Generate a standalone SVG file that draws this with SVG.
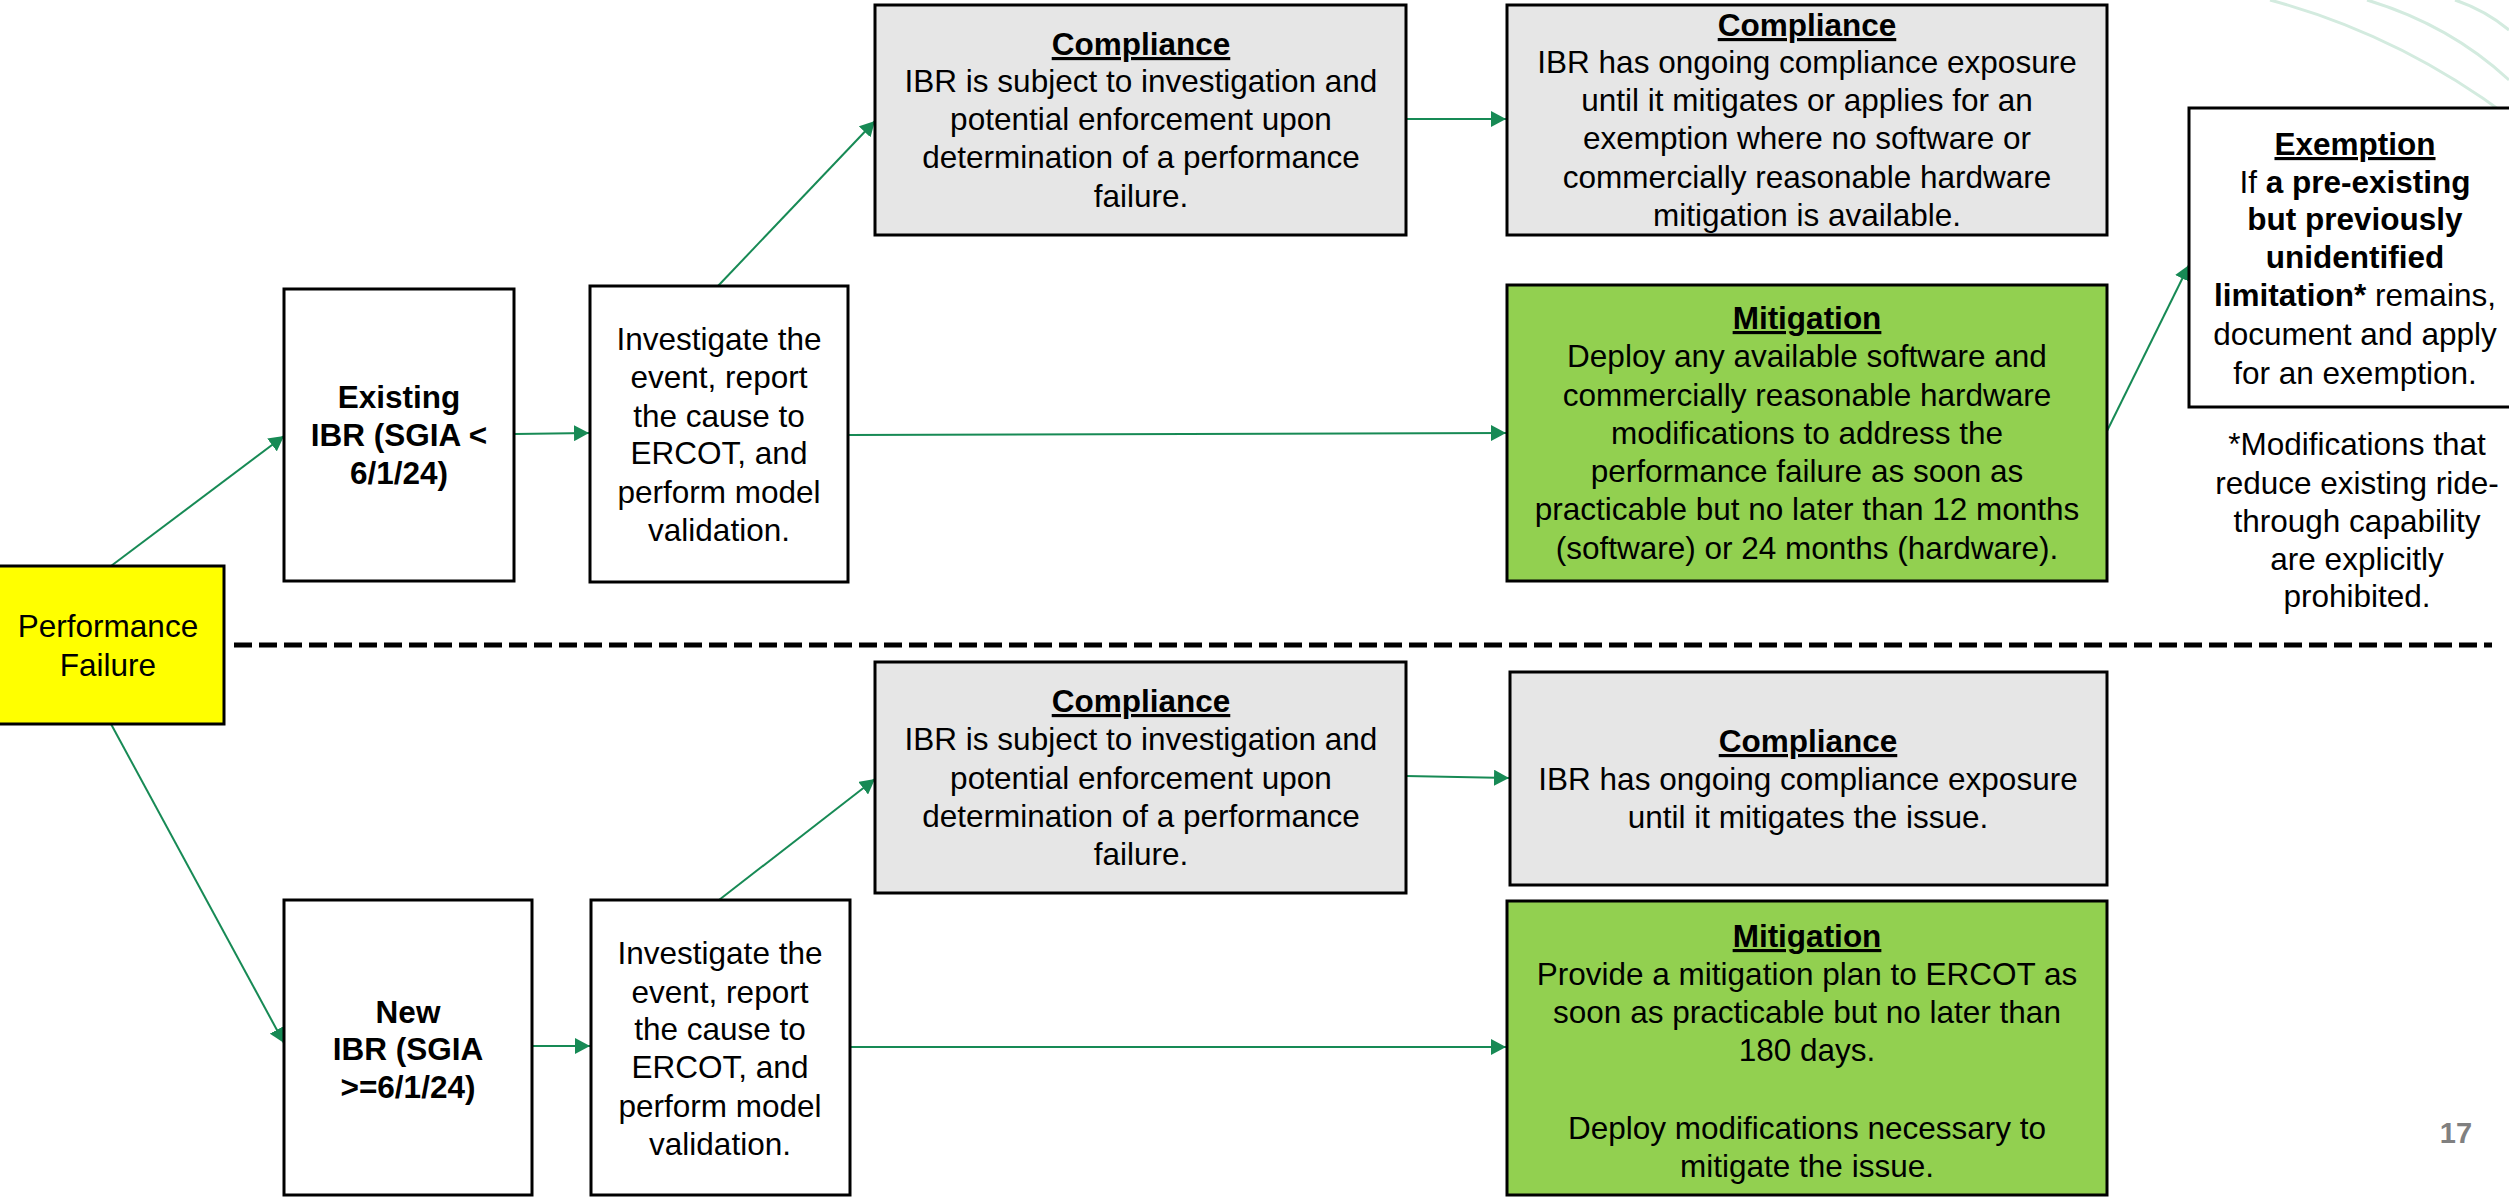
<svg xmlns="http://www.w3.org/2000/svg" width="2509" height="1197" viewBox="0 0 2509 1197">
<style>
.box{stroke:#000;stroke-width:3}
.w{fill:#fff}
.g{fill:#e6e6e6}
.m{fill:#92d050}
.y{fill:#ffff00}
text{font-family:"Liberation Sans",Arial,sans-serif;font-size:31.5px;fill:#000;text-anchor:middle}
.b{font-weight:bold}
.u{font-weight:bold;text-decoration:underline}
.conn{stroke:#178a55;stroke-width:2;fill:none;marker-end:url(#ah)}
.arc{stroke:#d3ebdf;stroke-width:3;fill:none}
</style>
<defs>
<marker id="ah" markerUnits="userSpaceOnUse" markerWidth="16" markerHeight="16" refX="15" refY="8" orient="auto">
<path d="M0,0 L15,8 L0,16 Z" fill="#178a55"/>
</marker>
</defs>
<rect width="2509" height="1197" fill="#fff"/>
<g id="decor">
<path class="arc" d="M2270,0 Q2400,35 2509,117"/>
<path class="arc" d="M2367,0 Q2450,25 2509,80"/>
<path class="arc" d="M2455,0 Q2485,10 2509,30"/>
</g>
<g id="divider">
<line x1="234" y1="645" x2="2492" y2="645" stroke="#000" stroke-width="5" stroke-dasharray="18 7"/>
</g>
<g id="connectors">
<line class="conn" x1="111" y1="566" x2="284" y2="436"/>
<line class="conn" x1="111" y1="724" x2="284" y2="1043"/>
<line class="conn" x1="515" y1="434" x2="589" y2="433"/>
<line class="conn" x1="718" y1="286" x2="875" y2="121"/>
<line class="conn" x1="848" y1="435" x2="1506" y2="433"/>
<line class="conn" x1="1406" y1="119" x2="1506" y2="119"/>
<line class="conn" x1="2107" y1="431" x2="2189" y2="265"/>
<line class="conn" x1="533" y1="1046" x2="590" y2="1046"/>
<line class="conn" x1="719" y1="900" x2="875" y2="779"/>
<line class="conn" x1="1406" y1="776" x2="1509" y2="778"/>
<line class="conn" x1="850" y1="1047" x2="1506" y2="1047"/>
</g>
<g id="performance-failure">
<rect class="box y" x="-3" y="566" width="227" height="158"/>
<text x="108" y="637">Performance</text>
<text x="108" y="676">Failure</text>
</g>
<g id="existing-ibr">
<rect class="box w" x="284" y="289" width="230" height="292"/>
<text class="b" x="399" y="408">Existing</text>
<text class="b" x="399" y="446">IBR (SGIA &lt;</text>
<text class="b" x="399" y="484">6/1/24)</text>
</g>
<g id="investigate-1">
<rect class="box w" x="590" y="286" width="258" height="296"/>
<text x="719" y="350">Investigate  the</text>
<text x="719" y="388">event,  report</text>
<text x="719" y="427">the  cause to</text>
<text x="719" y="464">ERCOT, and</text>
<text x="719" y="503">perform model</text>
<text x="719" y="541">validation.</text>
</g>
<g id="compliance-1">
<rect class="box g" x="875" y="5" width="531" height="230"/>
<text class="u" x="1141" y="55">Compliance</text>
<text x="1141" y="92">IBR is subject to investigation and</text>
<text x="1141" y="130">potential enforcement  upon</text>
<text x="1141" y="168">determination of a performance</text>
<text x="1141" y="207">failure.</text>
</g>
<g id="compliance-2">
<rect class="box g" x="1507" y="5" width="600" height="230"/>
<text class="u" x="1807" y="36">Compliance</text>
<text x="1807" y="73">IBR has ongoing compliance exposure</text>
<text x="1807" y="111">until  it mitigates or applies for an</text>
<text x="1807" y="149">exemption where no software or</text>
<text x="1807" y="188">commercially reasonable hardware</text>
<text x="1807" y="226">mitigation is available.</text>
</g>
<g id="mitigation-1">
<rect class="box m" x="1507" y="285" width="600" height="296"/>
<text class="u" x="1807" y="329">Mitigation</text>
<text x="1807" y="367">Deploy any available software and</text>
<text x="1807" y="406">commercially reasonable hardware</text>
<text x="1807" y="444">modifications to address the</text>
<text x="1807" y="482">performance failure as soon as</text>
<text x="1807" y="520">practicable but no later than 12 months</text>
<text x="1807" y="559">(software) or 24 months  (hardware).</text>
</g>
<g id="exemption">
<rect class="box w" x="2189" y="108" width="330" height="299"/>
<text class="u" x="2355" y="155">Exemption</text>
<text x="2355" y="193">If <tspan class="b">a pre-existing</tspan></text>
<text class="b" x="2355" y="230">but previously</text>
<text class="b" x="2355" y="268">unidentified</text>
<text x="2355" y="306"><tspan class="b">limitation*</tspan>  remains,</text>
<text x="2355" y="345">document and apply</text>
<text x="2355" y="384">for an exemption.</text>
</g>
<g id="footnote">
<text x="2357" y="455">*Modifications that</text>
<text x="2357" y="494">reduce existing ride-</text>
<text x="2357" y="532">through capability</text>
<text x="2357" y="570">are explicitly</text>
<text x="2357" y="607">prohibited.</text>
</g>
<g id="new-ibr">
<rect class="box w" x="284" y="900" width="248" height="295"/>
<text class="b" x="408" y="1023">New</text>
<text class="b" x="408" y="1060">IBR (SGIA</text>
<text class="b" x="408" y="1098">&gt;=6/1/24)</text>
</g>
<g id="investigate-2">
<rect class="box w" x="591" y="900" width="259" height="295"/>
<text x="720" y="964">Investigate  the</text>
<text x="720" y="1003">event,  report</text>
<text x="720" y="1040">the  cause to</text>
<text x="720" y="1078">ERCOT, and</text>
<text x="720" y="1117">perform model</text>
<text x="720" y="1155">validation.</text>
</g>
<g id="compliance-3">
<rect class="box g" x="875" y="662" width="531" height="231"/>
<text class="u" x="1141" y="712">Compliance</text>
<text x="1141" y="750">IBR is subject to investigation and</text>
<text x="1141" y="789">potential enforcement  upon</text>
<text x="1141" y="827">determination of a performance</text>
<text x="1141" y="865">failure.</text>
</g>
<g id="compliance-4">
<rect class="box g" x="1510" y="672" width="597" height="213"/>
<text class="u" x="1808" y="752">Compliance</text>
<text x="1808" y="790">IBR has ongoing compliance exposure</text>
<text x="1808" y="828">until  it mitigates the  issue.</text>
</g>
<g id="mitigation-2">
<rect class="box m" x="1507" y="901" width="600" height="294"/>
<text class="u" x="1807" y="947">Mitigation</text>
<text x="1807" y="985">Provide a mitigation plan to ERCOT as</text>
<text x="1807" y="1023">soon as practicable but no later than</text>
<text x="1807" y="1061">180 days.</text>
<text x="1807" y="1139">Deploy modifications necessary to</text>
<text x="1807" y="1177">mitigate the  issue.</text>
</g>
<g id="page-number">
<text class="b" x="2456" y="1143" style="font-size:29px;fill:#808080">17</text>
</g>
</svg>
